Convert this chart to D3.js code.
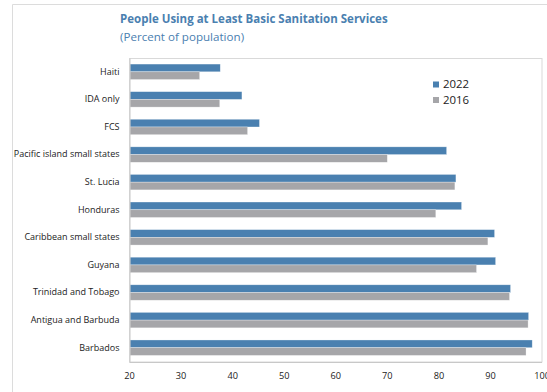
<!DOCTYPE html>
<html>
<head>
<meta charset="utf-8">
<script src="https://cdn.jsdelivr.net/npm/d3@7"></script>
<style>
  html, body { margin: 0; padding: 0; background: #fff; }
  svg { display: block; font-family: "Open Sans", "Noto Sans", sans-serif; }
</style>
</head>
<body>
<svg id="chart" width="547" height="392"></svg>
<script>
// Share of population using at least basic sanitation services
const categories = [
  "Haiti", "IDA only", "FCS", "Pacific island small states", "St. Lucia",
  "Honduras", "Caribbean small states", "Guyana", "Trinidad and Tobago",
  "Antigua and Barbuda", "Barbados"
];
const values2022 = [37.7, 41.9, 45.3, 81.6, 83.4, 84.5, 90.9, 91.1, 94.0, 97.5, 98.2];
const values2016 = [33.7, 37.6, 43.0, 70.1, 83.2, 79.5, 89.6, 87.4, 93.8, 97.4, 97.0];
const seriesNames = ["2022", "2016"];
const xTicks = [20, 30, 40, 50, 60, 70, 80, 90, 100];

const colors = { "2022": "#4a80b0", "2016": "#a6a6a9" };
const titleColor = "#4a80b0";
const fontStack = '"Open Sans", "Noto Sans", sans-serif';

const svg = d3.select("#chart");
const plot = { left: 129, top: 58, right: 541.5, bottom: 361.5 };

// outer frame
svg.append("path")
  .attr("d", "M12.5,392 V4.5 H547")
  .attr("fill", "none")
  .attr("stroke", "#dcdcdc")
  .attr("stroke-width", 1);

// title
svg.append("text")
  .attr("x", 120).attr("y", 23)
  .attr("fill", titleColor)
  .attr("font-weight", "bold")
  .attr("font-size", 11.5)
  .text("People Using at Least Basic Sanitation Services");
svg.append("text")
  .attr("x", 120).attr("y", 41)
  .attr("fill", titleColor)
  .attr("font-size", 11.6)
  .text("(Percent of population)");

const x = d3.scaleLinear().domain([20, 100]).range([plot.left, plot.right]);
const y = d3.scaleBand().domain(categories).range([plot.top, plot.bottom]).paddingInner(0.44).paddingOuter(0.22);
const ySub = d3.scaleBand().domain(seriesNames).range([0, y.bandwidth()]);

// plot-area border
svg.append("rect")
  .attr("x", plot.left + 0.5).attr("y", plot.top + 0.5)
  .attr("width", plot.right - plot.left).attr("height", plot.bottom - plot.top)
  .attr("fill", "none").attr("stroke", "#d9d9d9");

const rows = categories.map((c, i) => ({ cat: c, vals: [
  { key: "2022", v: values2022[i] },
  { key: "2016", v: values2016[i] }
]}));

const g = svg.append("g");
g.selectAll("g.row").data(rows).join("g")
  .attr("class", "row")
  .attr("transform", d => `translate(0,${y(d.cat)})`)
  .selectAll("rect").data(d => d.vals).join("rect")
  .attr("x", plot.left + 1)
  .attr("y", d => ySub(d.key))
  .attr("width", d => x(d.v) - plot.left - 1)
  .attr("height", ySub.bandwidth())
  .attr("fill", d => colors[d.key])
  .attr("stroke", "#ffffff").attr("stroke-opacity", 0.5).attr("stroke-width", 0.6);

// left axis with category labels
const yAxis = svg.append("g")
  .attr("transform", `translate(${plot.left + 0.5},0)`)
  .call(d3.axisLeft(y).tickSize(0).tickPadding(10))
  .attr("font-family", fontStack);
yAxis.select(".domain").attr("stroke", "#c8c8c8");
yAxis.selectAll("text").attr("font-size", 9).attr("fill", "#222");

// bottom axis
const xAxis = svg.append("g")
  .attr("transform", `translate(0,${plot.bottom + 0.5})`)
  .call(d3.axisBottom(x).tickValues(xTicks).tickSize(0).tickPadding(10))
  .attr("font-family", fontStack);
xAxis.select(".domain").attr("stroke", "#c8c8c8");
xAxis.selectAll("text").attr("font-size", 9.2).attr("fill", "#222");

// legend
const legend = svg.append("g").attr("transform", "translate(433,81.5)");
seriesNames.forEach((s, i) => {
  const lg = legend.append("g").attr("transform", `translate(0,${i * 15.5})`);
  lg.append("rect").attr("width", 6).attr("height", 6).attr("fill", colors[s]);
  lg.append("text").attr("x", 10).attr("y", 6.5)
    .attr("font-size", 11.4).attr("fill", "#222").text(s);
});
</script>
</body>
</html>
